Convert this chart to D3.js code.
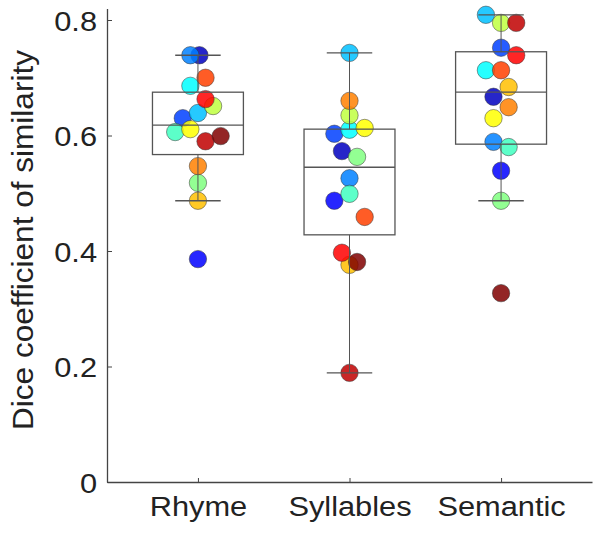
<!DOCTYPE html>
<html>
<head>
<meta charset="utf-8">
<script src="https://cdn.jsdelivr.net/npm/d3@7"></script>
<style>
  html, body { margin: 0; padding: 0; background: #fff; }
  svg { display: block; }
  text { font-family: "Liberation Sans", Arial, Helvetica, sans-serif; fill: #222; }
</style>
</head>
<body>
<svg id="chart" width="600" height="536"></svg>
<script>
// ---------- data ----------
const categories = ["Rhyme", "Syllables", "Semantic"];
const yTicks = [0, 0.2, 0.4, 0.6, 0.8];

// box-plot statistics per category
const boxQ1       = [0.567, 0.428, 0.585];
const boxMedian   = [0.618, 0.545, 0.675];
const boxQ3       = [0.675, 0.611, 0.745];
const whiskerLow  = [0.487, 0.189, 0.487];
const whiskerHigh = [0.739, 0.743, 0.809];

// subject colours (jet colormap, 16 subjects)
const subjectColors = ["#0000BF", "#0000FF", "#0040FF", "#0080FF", "#00BFFF", "#00FFFF",
  "#40FFBF", "#80FF80", "#BFFF40", "#FFFF00", "#FFBF00", "#FF8000",
  "#FF4000", "#FF0000", "#BF0000", "#800000"];

// Rhyme
const rhymeValues   = [0.739, 0.739, 0.700, 0.686, 0.663, 0.651, 0.639, 0.630, 0.611, 0.606, 0.599, 0.590, 0.547, 0.518, 0.487, 0.386];
const rhymeJitter   = [-0.05, 0.01, 0.05, -0.05, 0.05, 0.10, 0.00, -0.10, -0.05, -0.15, 0.15, 0.05, 0.00, 0.00, 0.00, 0.00];
const rhymeSubjects = [4, 1, 13, 6, 14, 9, 5, 3, 10, 7, 16, 15, 12, 8, 11, 2];
// Syllables
const syllValues   = [0.743, 0.660, 0.635, 0.613, 0.610, 0.603, 0.573, 0.563, 0.526, 0.499, 0.487, 0.459, 0.397, 0.381, 0.376, 0.189];
const syllJitter   = [0.00, 0.00, 0.00, 0.10, 0.00, -0.10, -0.05, 0.05, 0.00, 0.00, -0.10, 0.10, -0.05, 0.05, 0.00, 0.00];
const syllSubjects = [5, 12, 9, 10, 6, 3, 1, 8, 4, 7, 2, 13, 14, 16, 11, 15];
// Semantic
const semValues   = [0.809, 0.795, 0.795, 0.752, 0.739, 0.713, 0.713, 0.684, 0.667, 0.649, 0.630, 0.589, 0.580, 0.539, 0.487, 0.327];
const semJitter   = [-0.10, 0.00, 0.10, 0.00, 0.10, -0.10, 0.00, 0.05, -0.05, 0.05, -0.05, -0.05, 0.05, 0.00, 0.00, 0.00];
const semSubjects = [5, 9, 15, 3, 14, 6, 13, 11, 1, 12, 10, 4, 7, 2, 8, 16];

// ---------- chart ----------
const svg = d3.select("#chart");
const x = d3.scaleLinear().domain([0.4, 3.6]).range([107, 592]);
const y = d3.scaleLinear().domain([0, 0.82]).range([482, 482 - 0.82 * 577.5]);

const groups = [
  { vals: rhymeValues, jit: rhymeJitter, subj: rhymeSubjects },
  { vals: syllValues,  jit: syllJitter,  subj: syllSubjects },
  { vals: semValues,   jit: semJitter,   subj: semSubjects }
];
const points = [];
groups.forEach((g, gi) => {
  g.vals.forEach((v, i) => points.push({ pos: gi + 1, v: v, j: g.jit[i], s: g.subj[i] }));
});
points.sort((a, b) => a.s - b.s);

// points
svg.append("g").selectAll("circle").data(points).join("circle")
  .attr("cx", d => x(d.pos + d.j))
  .attr("cy", d => y(d.v))
  .attr("r", 8.7)
  .attr("fill", d => subjectColors[d.s - 1])
  .attr("fill-opacity", 0.85)
  .attr("stroke", "#333")
  .attr("stroke-opacity", 0.5)
  .attr("stroke-width", 1);

// boxes
const boxColor = "#555";
const bg = svg.append("g").attr("fill", "none").attr("stroke", boxColor).attr("stroke-width", 1.3);
categories.forEach((c, i) => {
  const p = i + 1;
  bg.append("line").attr("x1", x(p)).attr("x2", x(p)).attr("y1", y(boxQ3[i])).attr("y2", y(whiskerHigh[i])).attr("stroke-width", 1);
  bg.append("line").attr("x1", x(p)).attr("x2", x(p)).attr("y1", y(boxQ1[i])).attr("y2", y(whiskerLow[i])).attr("stroke-width", 1);
  bg.append("line").attr("x1", x(p - 0.15)).attr("x2", x(p + 0.15)).attr("y1", y(whiskerHigh[i])).attr("y2", y(whiskerHigh[i]));
  bg.append("line").attr("x1", x(p - 0.15)).attr("x2", x(p + 0.15)).attr("y1", y(whiskerLow[i])).attr("y2", y(whiskerLow[i]));
  bg.append("rect").attr("x", x(p - 0.3)).attr("width", x(p + 0.3) - x(p - 0.3))
    .attr("y", y(boxQ3[i])).attr("height", y(boxQ1[i]) - y(boxQ3[i]));
  bg.append("line").attr("x1", x(p - 0.3)).attr("x2", x(p + 0.3)).attr("y1", y(boxMedian[i])).attr("y2", y(boxMedian[i]));
});

// axes
const yAxis = d3.axisLeft(y).tickValues(yTicks).tickSizeInner(-5).tickSizeOuter(0)
  .tickPadding(10).tickFormat(d => d === 0 ? "0" : d3.format(".1f")(d));
const gy = svg.append("g").attr("transform", `translate(${x(0.4)},0)`).call(yAxis);
const xAxis = d3.axisBottom(x).tickValues([1, 2, 3]).tickSizeInner(-4).tickSizeOuter(0)
  .tickPadding(14).tickFormat(d => categories[d - 1]);
const gx = svg.append("g").attr("transform", `translate(0,${y(0)})`).call(xAxis);

[gx, gy].forEach(g => {
  g.select(".domain").attr("stroke", "#444").attr("stroke-width", 1.3);
  g.selectAll(".tick line").attr("stroke", "#444").attr("stroke-width", 1);
  g.selectAll("text").attr("font-size", 28).attr("fill", "#222")
    .attr("font-family", "'Liberation Sans', Arial, sans-serif");
});
gy.selectAll(".tick text").attr("dy", "0.36em")
  .attr("transform", function () { const xx = +d3.select(this).attr("x"); return `translate(${xx},0) scale(1.1,1) translate(${-xx},0)`; });
gx.selectAll(".tick text").attr("dy", "0.71em")
  .attr("transform", "scale(1.1,1)");

// y label
svg.append("text")
  .attr("transform", `translate(33,${(50 + 430) / 2}) rotate(-90)`)
  .attr("text-anchor", "middle")
  .attr("font-size", 29)
  .attr("textLength", 380)
  .attr("lengthAdjust", "spacingAndGlyphs")
  .text("Dice coefficient of similarity");
</script>
</body>
</html>
